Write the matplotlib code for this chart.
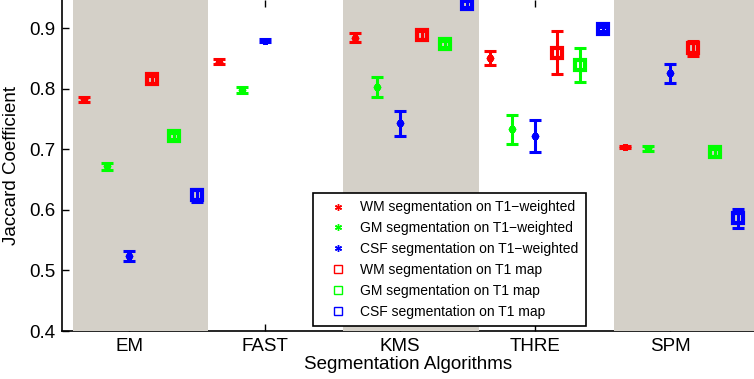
import numpy as np
import matplotlib
matplotlib.use("Agg")
import matplotlib.pyplot as plt
from matplotlib.lines import Line2D

plt.rcParams["font.family"] = ["Liberation Sans", "DejaVu Sans"]

algorithms = ["EM", "FAST", "KMS", "THRE", "SPM"]

wm_t1w_mean = [0.783, 0.845, 0.885, 0.851, 0.704]
wm_t1w_err = [0.004, 0.004, 0.007, 0.011, 0.002]
gm_t1w_mean = [0.672, 0.799, 0.803, 0.733, 0.702]
gm_t1w_err = [0.006, 0.005, 0.016, 0.024, 0.004]
csf_t1w_mean = [0.524, 0.880, 0.743, 0.722, 0.826]
csf_t1w_err = [0.008, 0.003, 0.020, 0.026, 0.016]

wm_map_mean = [0.816, np.nan, 0.889, 0.860, 0.867]
wm_map_err = [0.006, np.nan, 0.006, 0.035, 0.012]
gm_map_mean = [0.722, np.nan, 0.875, 0.840, 0.695]
gm_map_err = [0.005, np.nan, 0.005, 0.028, 0.005]
csf_map_mean = [0.624, np.nan, 0.940, 0.899, 0.586]
csf_map_err = [0.010, np.nan, 0.005, 0.004, 0.016]

series = [
    ("WM segmentation on T1\u2212weighted", wm_t1w_mean, wm_t1w_err, "#ff0000", "t1w"),
    ("GM segmentation on T1\u2212weighted", gm_t1w_mean, gm_t1w_err, "#00ff00", "t1w"),
    ("CSF segmentation on T1\u2212weighted", csf_t1w_mean, csf_t1w_err, "#0000ff", "t1w"),
    ("WM segmentation on T1 map", wm_map_mean, wm_map_err, "#ff0000", "map"),
    ("GM segmentation on T1 map", gm_map_mean, gm_map_err, "#00ff00", "map"),
    ("CSF segmentation on T1 map", csf_map_mean, csf_map_err, "#0000ff", "map"),
]

ASTERISK = (6, 2, 0)
BAND_COLOR = "#d4d0c8"

fig = plt.figure(figsize=(7.54, 3.79), dpi=100)
ax = fig.add_axes([62 / 754, 48 / 379, 692 / 754, 331 / 379])

positions = np.arange(1, len(algorithms) + 1)
for pos in positions[::2]:
    # the last band runs off the right edge of the figure
    right = pos + 7 / 12 if pos < positions[-1] else pos + 1
    ax.axvspan(pos - 5 / 12, right, color=BAND_COLOR, lw=0, zorder=1)

handles = []
for k, (label, mean, err, color, kind) in enumerate(series):
    mean = np.asarray(mean, dtype=float)
    err = np.asarray(err, dtype=float)
    ok = np.isfinite(mean)
    x = positions[ok] + (k - 2) / 6
    if kind == "t1w":
        marker, ms, mew, fc = ASTERISK, 5, 2.5, color
    else:
        marker, ms, mew, fc = "s", 7, 3, "none"
    ax.errorbar(x, mean[ok], yerr=err[ok], fmt="none", ecolor=color,
                elinewidth=2.2, capsize=4, capthick=2.2, zorder=3)
    ax.plot(x, mean[ok], linestyle="none", marker=marker, markersize=ms,
            markerfacecolor=fc, markeredgecolor=color, markeredgewidth=mew, zorder=4)
    handles.append(Line2D([], [], linestyle="none", marker=marker,
                          markersize=5 if kind == "t1w" else 6,
                          markerfacecolor=fc, markeredgecolor=color,
                          markeredgewidth=1, label=label))

ax.set_xlim(0.502, 5.62)
ax.set_ylim(0.4, 0.947)
ax.set_xticks(positions)
ax.set_xticklabels(algorithms)
ax.set_yticks([0.4, 0.5, 0.6, 0.7, 0.8, 0.9])
ax.set_yticklabels(["0.4", "0.5", "0.6", "0.7", "0.8", "0.9"])
ax.tick_params(direction="in", length=5, width=1, labelsize=13.5, top=True,
               right=False, pad=5)
ax.set_axisbelow(True)
for side in ("top", "right"):
    ax.spines[side].set_visible(False)
for side in ("left", "bottom"):
    ax.spines[side].set_zorder(0.5)
    ax.spines[side].set_linewidth(1.2)

ax.set_xlabel("Segmentation Algorithms", fontsize=13.5, labelpad=1)
ax.set_ylabel("Jaccard Coefficient", fontsize=13.5, labelpad=6)

leg = ax.legend(handles=handles, loc="lower left", bbox_to_anchor=(0.363, 0.015),
                borderaxespad=0, fontsize=10, frameon=True, fancybox=False,
                framealpha=1, edgecolor="black", handlelength=2.6,
                handletextpad=0.3, labelspacing=0.5, borderpad=0.5)
leg.get_frame().set_linewidth(1.2)
leg.set_zorder(5)

fig.savefig("out.png", dpi=100)
